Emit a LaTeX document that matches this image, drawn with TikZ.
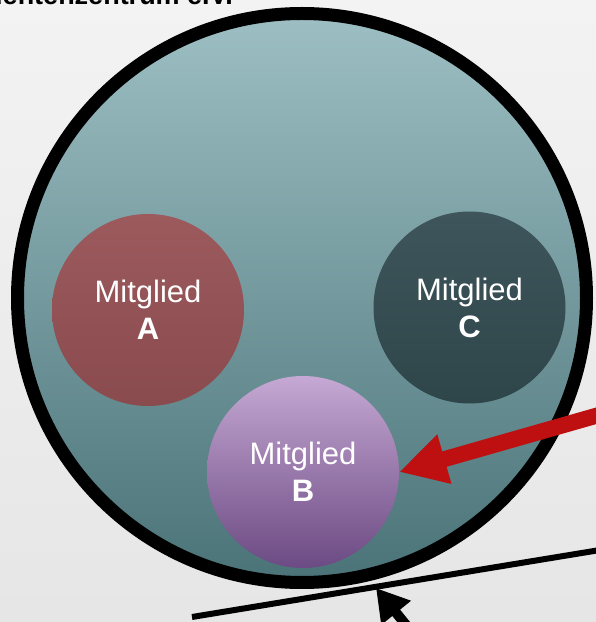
\documentclass[tikz,border=0pt]{standalone}
\usepackage{fontspec}
\setmainfont{Liberation Sans}
\usetikzlibrary{arrows.meta}

\definecolor{hgoben}{HTML}{F3F3F3}
\definecolor{hgunten}{HTML}{E6E6E6}
\definecolor{vereinoben}{HTML}{9DBFC3}
\definecolor{vereinmitte}{HTML}{6A9CA4}
\definecolor{vereinunten}{HTML}{4A7378}
\definecolor{aoben}{HTML}{9C5A5D}
\definecolor{aunten}{HTML}{8A4B4E}
\definecolor{coben}{HTML}{3E555B}
\definecolor{cunten}{HTML}{2E454A}
\definecolor{boben}{HTML}{C5A8D3}
\definecolor{bmitte}{HTML}{A27BB5}
\definecolor{bunten}{HTML}{6C4A83}
\definecolor{rot}{HTML}{BE1010}

\begin{document}
\begin{tikzpicture}[x=1pt,y=1pt,
		mitglied/.style={draw=none,shape=circle,minimum size=192pt,inner sep=0pt,align=center,text=white,font=\fontsize{31}{37}\selectfont}]
		
		\useasboundingbox[top color=hgoben,bottom color=hgunten] (0,0) rectangle (596,622);
		\node[anchor=base east,inner sep=0pt,font=\fontsize{27}{30}\selectfont\bfseries] (titel) at (233,617) {Studentenzentrum e.V.};
		
		\node[draw,shape=circle,minimum size=569pt,line width=13pt,top color=vereinoben,middle color=vereinmitte,bottom color=vereinunten] (verein) at (302,324) {};
		
		\node[mitglied,top color=aoben,bottom color=aunten] (a) at (148,312) {Mitglied\\\textbf{A}};
		\node[mitglied,top color=coben,bottom color=cunten] (c) at (469.5,314.5) {Mitglied\\\textbf{C}};
		\node[mitglied,top color=boben,middle color=bmitte,bottom color=bunten] (b) at (303,150) {Mitglied\\\textbf{B}};
		
		\coordinate (neu) at (620,213);
		\coordinate (links) at (192,5);
		\coordinate (rechts) at (600,72);
		\coordinate (unten) at (428,-30);
		\coordinate (kante) at (376,34);
		
		\draw[-{Triangle[length=32pt,width=36pt]},line width=10pt] (unten) -- (kante);
		\draw[line width=6pt] (links) -- (rechts);
		\draw[-{Triangle[length=47pt,width=48pt]},line width=16pt,rot] (neu) -- (b.east);
		\end{tikzpicture}
\end{document}
